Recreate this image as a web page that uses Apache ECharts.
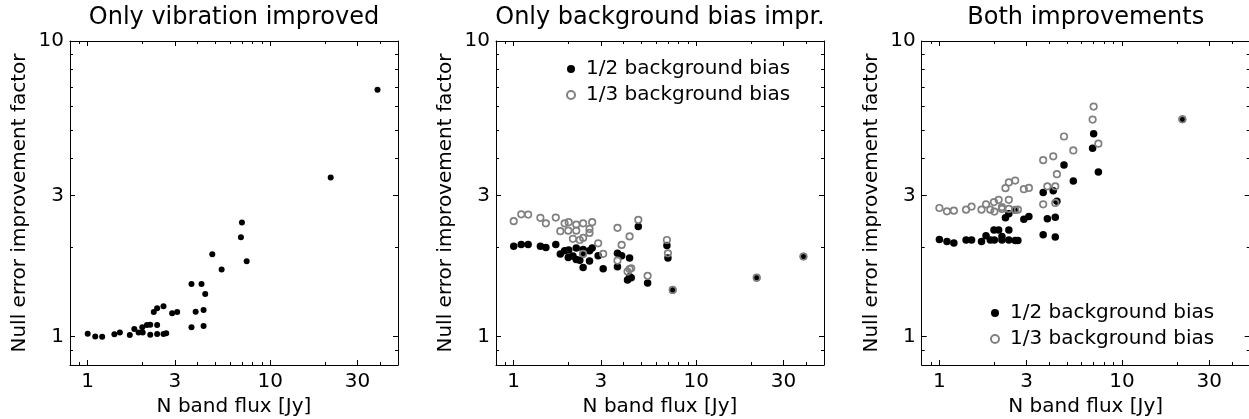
<!DOCTYPE html>
<html><head><meta charset="utf-8">
<script src="https://cdn.jsdelivr.net/npm/echarts@6/dist/echarts.min.js"></script>
<style>html,body{margin:0;padding:0;background:#fff}#c{width:1249px;height:419px}</style>
</head><body><div id="c"></div>
<script>
// ---- data ----
const flux = [1.0, 1.1, 1.2, 1.4, 1.5, 1.7, 1.8, 1.9, 1.99, 2.0, 2.11, 2.2, 2.2, 2.3, 2.4, 2.4, 2.4, 2.6, 2.6, 2.69, 2.9, 3.09, 3.7, 3.7, 3.9, 4.2, 4.31, 4.31, 4.4, 4.81, 5.41, 6.9, 6.99, 7.42, 21.4, 38.6];
const vibOnly = [1.02, 1.00, 0.998, 1.016, 1.03, 1.01, 1.06, 1.03, 1.073, 1.03, 1.093, 1.095, 1.013, 1.21, 1.244, 1.093, 1.019, 1.264, 1.019, 1.024, 1.197, 1.21, 1.505, 1.073, 1.212, 1.505, 1.229, 1.085, 1.392, 1.897, 1.683, 2.166, 2.43, 1.795, 3.45, 6.84];
const bgHalf = [2.02, 2.045, 2.045, 2.02, 2.0, 2.045, 1.90, 1.95, 1.85, 1.96, 1.87, 1.82, 1.99, 1.81, 1.71, 1.90, 1.97, 1.80, 1.95, 1.99, 1.876, 1.693, 1.72, 1.91, 1.876, 1.553, 1.593, 1.844, 1.578, 2.354, 1.517, 2.03, 1.844, 1.436, 1.58, 1.864];
const bgThird = [2.455, 2.59, 2.585, 2.52, 2.414, 2.525, 2.27, 2.414, 2.28, 2.435, 2.14, 2.28, 2.39, 2.12, 1.903, 2.155, 2.414, 2.24, 2.31, 2.435, 2.066, 1.903, 1.806, 2.33, 2.04, 1.657, 1.69, 2.18, 1.70, 2.48, 1.603, 2.12, 1.91, 1.436, 1.58, 1.864];
const bothHalf = [2.13, 2.094, 2.07, 2.12, 2.12, 2.094, 2.19, 2.12, 2.29, 2.12, 2.29, 2.18, 2.12, 2.52, 2.60, 2.29, 2.12, 2.68, 2.11, 2.11, 2.49, 2.547, 3.07, 2.207, 2.5, 3.11, 2.53, 2.17, 2.867, 3.80, 3.36, 4.33, 4.85, 3.6, 5.43, 10.4];
const bothThird = [2.72, 2.65, 2.665, 2.686, 2.75, 2.686, 2.80, 2.686, 2.85, 2.645, 2.9, 2.74, 2.70, 3.175, 3.32, 2.9, 2.70, 3.37, 2.68, 2.686, 3.15, 3.18, 3.95, 2.80, 3.22, 4.07, 3.22, 2.83, 3.54, 4.75, 4.26, 5.42, 6.0, 4.49, 5.43, 12.0];
const titles = ['Only vibration improved', 'Only background bias impr.', 'Both improvements'];
const seriesNames = ['1/2 background bias', '1/3 background bias'];
const xMajor = [1, 3, 10, 30];
const xMinor = [0.9, 2, 4, 5, 6, 7, 8, 9, 20, 40];
const yMajor = [1, 3, 10];
const yMinor = [0.9, 2, 4, 5, 6, 7, 8, 9];
const xName = 'N band flux [Jy]';
const yName = 'Null error improvement factor';

// ---- layout / style ----
const FONT = 'DejaVu Sans';
const GRID_LEFTS = [70, 496, 921.7];
const GRID_TOP = 41, GRID_W = 328, GRID_H = 324;
const X_RANGE = [0.8, 50], Y_RANGE = [0.8, 10];
const GRAY = '#808080';

const fmt = v => String(+Number(v).toPrecision(3));
const grid = GRID_LEFTS.map(l => ({left: l, top: GRID_TOP, width: GRID_W, height: GRID_H, containLabel: false, outerBoundsMode: 'none'}));

function mkAxis(dim, gi, pos, vals, len, withLabel, withLine, name) {
  const range = dim === 'x' ? X_RANGE : Y_RANGE;
  const a = {
    type: 'log', logBase: 10, gridIndex: gi, position: pos,
    min: range[0], max: range[1],
    axisLine: {show: withLine, onZero: false, lineStyle: {color: '#000', width: 1}},
    axisTick: {show: true, inside: true, length: len, customValues: vals, lineStyle: {color: '#000', width: 1}},
    axisLabel: {show: withLabel, margin: dim === 'x' ? 7 : 6, color: '#000', fontSize: 20, fontFamily: FONT, formatter: fmt},
    splitLine: {show: false}, minorTick: {show: false}, minorSplitLine: {show: false},
    silent: true
  };
  if (withLabel) a.axisLabel.customValues = vals;
  if (name) {
    a.name = name; a.nameLocation = 'middle';
    a.nameGap = dim === 'x' ? 30 : 40;
    a.nameTextStyle = {color: '#000', fontSize: 20, fontFamily: FONT};
  }
  return a;
}

const xAxis = [], yAxis = [];
GRID_LEFTS.forEach((_, gi) => {
  xAxis.push(mkAxis('x', gi, 'bottom', xMajor, 5, true, true, xName));
  xAxis.push(mkAxis('x', gi, 'bottom', xMinor, 3, false, false));
  xAxis.push(mkAxis('x', gi, 'top', xMajor, 5, false, true));
  xAxis.push(mkAxis('x', gi, 'top', xMinor, 3, false, false));
  yAxis.push(mkAxis('y', gi, 'left', yMajor, 5, true, true, yName));
  yAxis.push(mkAxis('y', gi, 'left', yMinor, 3, false, false));
  yAxis.push(mkAxis('y', gi, 'right', yMajor, 5, false, true));
  yAxis.push(mkAxis('y', gi, 'right', yMinor, 3, false, false));
});

const pairs = ys => flux.map((x, i) => [x, ys[i]]);
function blackSeries(gi, ys, size, name) {
  return {type: 'scatter', name: name, xAxisIndex: gi * 4, yAxisIndex: gi * 4, data: pairs(ys),
    symbol: 'circle', symbolSize: size, itemStyle: {color: '#000', borderWidth: 0, opacity: 1}, clip: true, z: 2};
}
function graySeries(gi, ys, name) {
  return {type: 'scatter', name: name, xAxisIndex: gi * 4, yAxisIndex: gi * 4, data: pairs(ys),
    symbol: 'circle', symbolSize: 6.5, itemStyle: {color: 'rgba(255,255,255,0)', borderColor: GRAY, borderWidth: 1.7, opacity: 1}, clip: true, z: 3};
}

const series = [
  blackSeries(0, vibOnly, 6),
  blackSeries(1, bgHalf, 7.5, seriesNames[0]),
  graySeries(1, bgThird, seriesNames[1]),
  blackSeries(2, bothHalf, 7.5, seriesNames[0]),
  graySeries(2, bothThird, seriesNames[1])
];

const title = titles.map((t, i) => ({
  text: t, left: GRID_LEFTS[i] + GRID_W / 2, top: 6, textAlign: 'center', padding: 0,
  textStyle: {fontSize: 24, fontWeight: 'normal', color: '#000', fontFamily: FONT}
}));

function mkLegend(left, top) {
  return {
    data: seriesNames, orient: 'vertical', left: left, top: top, padding: 0,
    icon: 'circle', itemWidth: 8, itemHeight: 8, itemGap: 6, selectedMode: false,
    textStyle: {fontSize: 20, color: '#000', fontFamily: FONT, padding: [0, 0, 0, 6]}
  };
}

const option = {
  animation: false,
  backgroundColor: '#fff',
  title: title,
  legend: [mkLegend(566, 59), mkLegend(990, 303)],
  grid: grid,
  xAxis: xAxis,
  yAxis: yAxis,
  series: series
};
const chart = echarts.init(document.getElementById('c'), null, {renderer: 'canvas'});
chart.setOption(option);
</script>
</body></html>
